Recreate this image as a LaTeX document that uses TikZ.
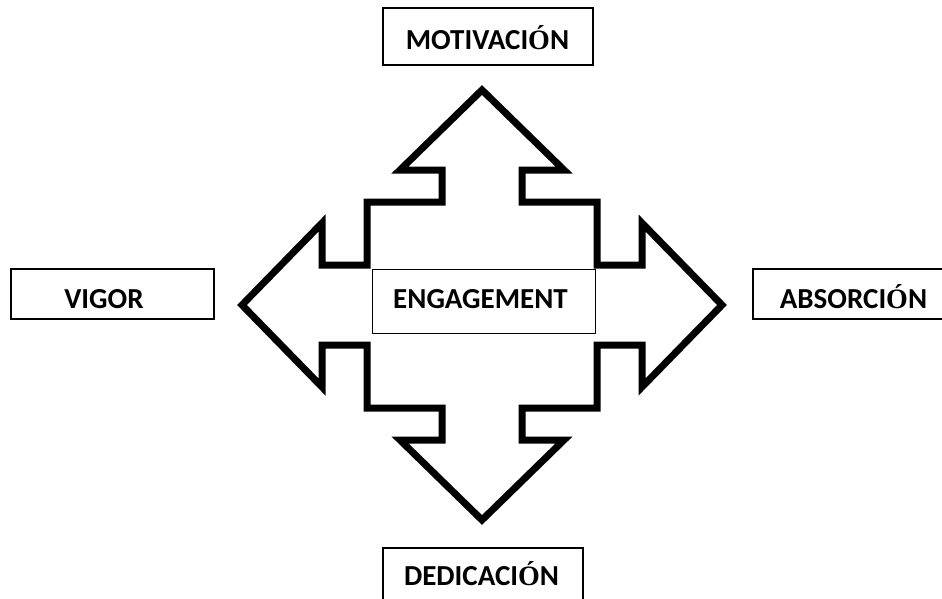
\documentclass[tikz,border=0pt]{standalone}
\usepackage{fontspec}
\setmainfont{Carlito}
\newfontfamily\accfont{Liberation Serif}
\newcommand{\accO}{{\accfont\fontsize{28}{28}\selectfont Ó}}
\begin{document}
\begin{tikzpicture}[x=1pt,y=-1pt,
  box/.style={draw=black,line width=1.5pt,fill=white,inner sep=0pt,rectangle},
  lbl/.style={anchor=base,inner sep=0pt,font=\fontsize{29}{29}\selectfont\bfseries},
  outline/.style={draw=black,line width=7pt,line join=miter,fill=white}]
\useasboundingbox (0,0) rectangle (942,598);
\clip (0,0) rectangle (942,598);
\fill[white] (0,0) rectangle (942,598);
\begin{scope}[shift={(482,305)}]
\draw[outline] (0,-215) -- (82,-135) -- (40,-135) -- (40,-103) -- (115,-103) -- (115,-40)
  -- (160,-40) -- (160,-82) -- (240,0) -- (160,82) -- (160,40) -- (115,40) -- (115,103)
  -- (40,103) -- (40,135) -- (82,135) -- (0,215) -- (-82,135) -- (-40,135) -- (-40,103)
  -- (-115,103) -- (-115,40) -- (-160,40) -- (-160,82) -- (-240,0) -- (-160,-82)
  -- (-160,-40) -- (-115,-40) -- (-115,-103) -- (-40,-103) -- (-40,-135) -- (-82,-135) -- cycle;
\end{scope}
\node[box,minimum width=210pt,minimum height=57pt] (mot) at (488,36.5) {};
\node[box,minimum width=203pt,minimum height=50pt] (vig) at (112.5,294) {};
\node[box,line width=1pt,minimum width=223pt,minimum height=64pt] (eng) at (483.5,301) {};
\node[box,minimum width=300pt,minimum height=50pt] (abs) at (903,294) {};
\node[box,minimum width=200pt,minimum height=62pt] (ded) at (483,579) {};
\node[lbl] (motT) at (487.5,49.3) {MOTIVACI\accO N};
\node[lbl] (vigT) at (104,308) {VIGOR};
\node[lbl] (engT) at (480.5,308) {ENGAGEMENT};
\node[lbl] (absT) at (853.5,308) {ABSORCI\accO N};
\node[lbl] (dedT) at (481.5,585) {DEDICACI\accO N};
\end{tikzpicture}
\end{document}
